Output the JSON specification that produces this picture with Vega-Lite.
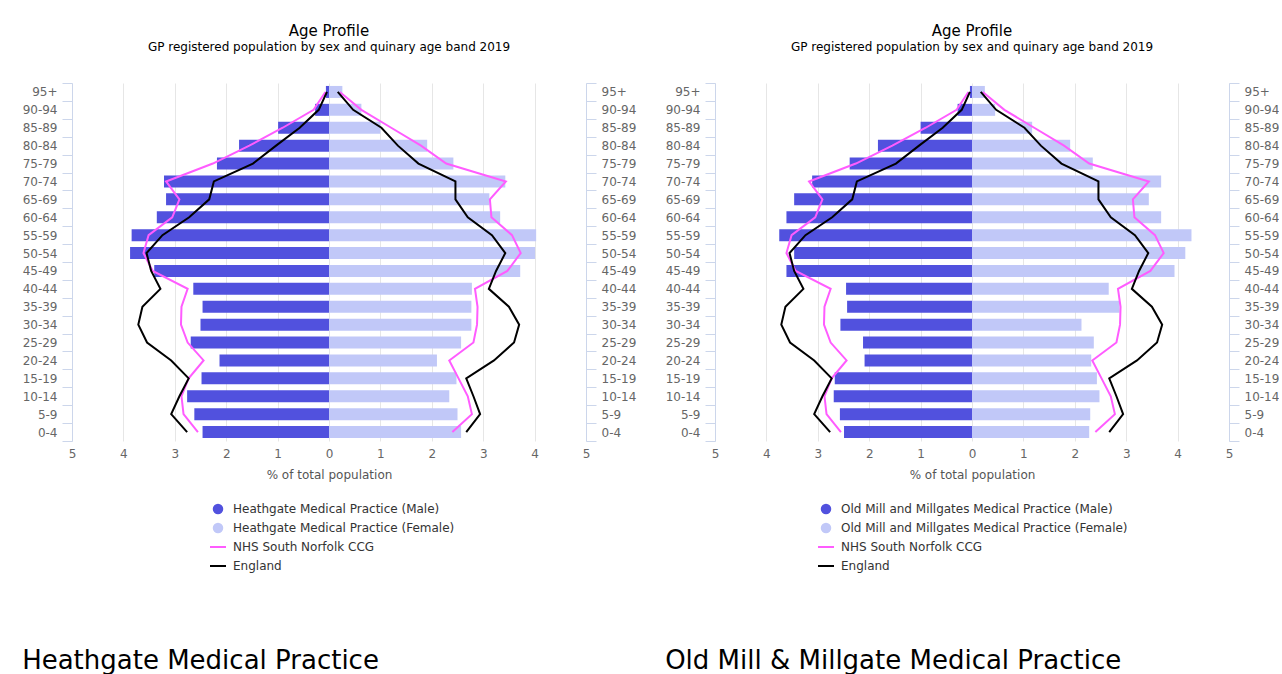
{
  "$schema": "https://vega.github.io/schema/vega-lite/v6.json",
  "background": "white",
  "padding": {"left": 22, "top": 24, "right": 0, "bottom": 0},
  "spacing": 29,
  "resolve": {"scale": {"fill": "independent", "stroke": "independent"}, "legend": {"fill": "independent", "stroke": "independent"}},
  "datasets": {
    "heath": [
      {"age": "95+", "series": "Heathgate Medical Practice (Male)", "v": -0.06},
      {"age": "90-94", "series": "Heathgate Medical Practice (Male)", "v": -0.27},
      {"age": "85-89", "series": "Heathgate Medical Practice (Male)", "v": -0.99},
      {"age": "80-84", "series": "Heathgate Medical Practice (Male)", "v": -1.75},
      {"age": "75-79", "series": "Heathgate Medical Practice (Male)", "v": -2.18},
      {"age": "70-74", "series": "Heathgate Medical Practice (Male)", "v": -3.21},
      {"age": "65-69", "series": "Heathgate Medical Practice (Male)", "v": -3.17},
      {"age": "60-64", "series": "Heathgate Medical Practice (Male)", "v": -3.35},
      {"age": "55-59", "series": "Heathgate Medical Practice (Male)", "v": -3.84},
      {"age": "50-54", "series": "Heathgate Medical Practice (Male)", "v": -3.87},
      {"age": "45-49", "series": "Heathgate Medical Practice (Male)", "v": -3.40},
      {"age": "40-44", "series": "Heathgate Medical Practice (Male)", "v": -2.64},
      {"age": "35-39", "series": "Heathgate Medical Practice (Male)", "v": -2.46},
      {"age": "30-34", "series": "Heathgate Medical Practice (Male)", "v": -2.50},
      {"age": "25-29", "series": "Heathgate Medical Practice (Male)", "v": -2.69},
      {"age": "20-24", "series": "Heathgate Medical Practice (Male)", "v": -2.13},
      {"age": "15-19", "series": "Heathgate Medical Practice (Male)", "v": -2.48},
      {"age": "10-14", "series": "Heathgate Medical Practice (Male)", "v": -2.76},
      {"age": "5-9", "series": "Heathgate Medical Practice (Male)", "v": -2.62},
      {"age": "0-4", "series": "Heathgate Medical Practice (Male)", "v": -2.46},
      {"age": "95+", "series": "Heathgate Medical Practice (Female)", "v": 0.26},
      {"age": "90-94", "series": "Heathgate Medical Practice (Female)", "v": 0.63},
      {"age": "85-89", "series": "Heathgate Medical Practice (Female)", "v": 1.00},
      {"age": "80-84", "series": "Heathgate Medical Practice (Female)", "v": 1.91},
      {"age": "75-79", "series": "Heathgate Medical Practice (Female)", "v": 2.42},
      {"age": "70-74", "series": "Heathgate Medical Practice (Female)", "v": 3.43},
      {"age": "65-69", "series": "Heathgate Medical Practice (Female)", "v": 3.12},
      {"age": "60-64", "series": "Heathgate Medical Practice (Female)", "v": 3.33},
      {"age": "55-59", "series": "Heathgate Medical Practice (Female)", "v": 4.03},
      {"age": "50-54", "series": "Heathgate Medical Practice (Female)", "v": 4.01},
      {"age": "45-49", "series": "Heathgate Medical Practice (Female)", "v": 3.72},
      {"age": "40-44", "series": "Heathgate Medical Practice (Female)", "v": 2.78},
      {"age": "35-39", "series": "Heathgate Medical Practice (Female)", "v": 2.77},
      {"age": "30-34", "series": "Heathgate Medical Practice (Female)", "v": 2.77},
      {"age": "25-29", "series": "Heathgate Medical Practice (Female)", "v": 2.57},
      {"age": "20-24", "series": "Heathgate Medical Practice (Female)", "v": 2.10},
      {"age": "15-19", "series": "Heathgate Medical Practice (Female)", "v": 2.48},
      {"age": "10-14", "series": "Heathgate Medical Practice (Female)", "v": 2.34},
      {"age": "5-9", "series": "Heathgate Medical Practice (Female)", "v": 2.50},
      {"age": "0-4", "series": "Heathgate Medical Practice (Female)", "v": 2.57}
    ],
    "oldmill": [
      {"age": "95+", "series": "Old Mill and Millgates Medical Practice (Male)", "v": -0.04},
      {"age": "90-94", "series": "Old Mill and Millgates Medical Practice (Male)", "v": -0.28},
      {"age": "85-89", "series": "Old Mill and Millgates Medical Practice (Male)", "v": -1.00},
      {"age": "80-84", "series": "Old Mill and Millgates Medical Practice (Male)", "v": -1.83},
      {"age": "75-79", "series": "Old Mill and Millgates Medical Practice (Male)", "v": -2.38},
      {"age": "70-74", "series": "Old Mill and Millgates Medical Practice (Male)", "v": -3.11},
      {"age": "65-69", "series": "Old Mill and Millgates Medical Practice (Male)", "v": -3.46},
      {"age": "60-64", "series": "Old Mill and Millgates Medical Practice (Male)", "v": -3.61},
      {"age": "55-59", "series": "Old Mill and Millgates Medical Practice (Male)", "v": -3.75},
      {"age": "50-54", "series": "Old Mill and Millgates Medical Practice (Male)", "v": -3.46},
      {"age": "45-49", "series": "Old Mill and Millgates Medical Practice (Male)", "v": -3.61},
      {"age": "40-44", "series": "Old Mill and Millgates Medical Practice (Male)", "v": -2.45},
      {"age": "35-39", "series": "Old Mill and Millgates Medical Practice (Male)", "v": -2.43},
      {"age": "30-34", "series": "Old Mill and Millgates Medical Practice (Male)", "v": -2.56},
      {"age": "25-29", "series": "Old Mill and Millgates Medical Practice (Male)", "v": -2.12},
      {"age": "20-24", "series": "Old Mill and Millgates Medical Practice (Male)", "v": -2.09},
      {"age": "15-19", "series": "Old Mill and Millgates Medical Practice (Male)", "v": -2.67},
      {"age": "10-14", "series": "Old Mill and Millgates Medical Practice (Male)", "v": -2.69},
      {"age": "5-9", "series": "Old Mill and Millgates Medical Practice (Male)", "v": -2.57},
      {"age": "0-4", "series": "Old Mill and Millgates Medical Practice (Male)", "v": -2.49},
      {"age": "95+", "series": "Old Mill and Millgates Medical Practice (Female)", "v": 0.25},
      {"age": "90-94", "series": "Old Mill and Millgates Medical Practice (Female)", "v": 0.45},
      {"age": "85-89", "series": "Old Mill and Millgates Medical Practice (Female)", "v": 1.17},
      {"age": "80-84", "series": "Old Mill and Millgates Medical Practice (Female)", "v": 1.91},
      {"age": "75-79", "series": "Old Mill and Millgates Medical Practice (Female)", "v": 2.35},
      {"age": "70-74", "series": "Old Mill and Millgates Medical Practice (Female)", "v": 3.68},
      {"age": "65-69", "series": "Old Mill and Millgates Medical Practice (Female)", "v": 3.44},
      {"age": "60-64", "series": "Old Mill and Millgates Medical Practice (Female)", "v": 3.68},
      {"age": "55-59", "series": "Old Mill and Millgates Medical Practice (Female)", "v": 4.27},
      {"age": "50-54", "series": "Old Mill and Millgates Medical Practice (Female)", "v": 4.15},
      {"age": "45-49", "series": "Old Mill and Millgates Medical Practice (Female)", "v": 3.94},
      {"age": "40-44", "series": "Old Mill and Millgates Medical Practice (Female)", "v": 2.66},
      {"age": "35-39", "series": "Old Mill and Millgates Medical Practice (Female)", "v": 2.87},
      {"age": "30-34", "series": "Old Mill and Millgates Medical Practice (Female)", "v": 2.13},
      {"age": "25-29", "series": "Old Mill and Millgates Medical Practice (Female)", "v": 2.37},
      {"age": "20-24", "series": "Old Mill and Millgates Medical Practice (Female)", "v": 2.32},
      {"age": "15-19", "series": "Old Mill and Millgates Medical Practice (Female)", "v": 2.43},
      {"age": "10-14", "series": "Old Mill and Millgates Medical Practice (Female)", "v": 2.48},
      {"age": "5-9", "series": "Old Mill and Millgates Medical Practice (Female)", "v": 2.30},
      {"age": "0-4", "series": "Old Mill and Millgates Medical Practice (Female)", "v": 2.28}
    ],
    "ref": [
      {"age": "95+", "k": 0, "sex": "M", "series": "NHS South Norfolk CCG", "v": -0.07},
      {"age": "90-94", "k": 1, "sex": "M", "series": "NHS South Norfolk CCG", "v": -0.30},
      {"age": "85-89", "k": 2, "sex": "M", "series": "NHS South Norfolk CCG", "v": -0.90},
      {"age": "80-84", "k": 3, "sex": "M", "series": "NHS South Norfolk CCG", "v": -1.55},
      {"age": "75-79", "k": 4, "sex": "M", "series": "NHS South Norfolk CCG", "v": -2.26},
      {"age": "70-74", "k": 5, "sex": "M", "series": "NHS South Norfolk CCG", "v": -3.17},
      {"age": "65-69", "k": 6, "sex": "M", "series": "NHS South Norfolk CCG", "v": -2.91},
      {"age": "60-64", "k": 7, "sex": "M", "series": "NHS South Norfolk CCG", "v": -3.05},
      {"age": "55-59", "k": 8, "sex": "M", "series": "NHS South Norfolk CCG", "v": -3.51},
      {"age": "50-54", "k": 9, "sex": "M", "series": "NHS South Norfolk CCG", "v": -3.61},
      {"age": "45-49", "k": 10, "sex": "M", "series": "NHS South Norfolk CCG", "v": -3.43},
      {"age": "40-44", "k": 11, "sex": "M", "series": "NHS South Norfolk CCG", "v": -2.75},
      {"age": "35-39", "k": 12, "sex": "M", "series": "NHS South Norfolk CCG", "v": -2.87},
      {"age": "30-34", "k": 13, "sex": "M", "series": "NHS South Norfolk CCG", "v": -2.88},
      {"age": "25-29", "k": 14, "sex": "M", "series": "NHS South Norfolk CCG", "v": -2.75},
      {"age": "20-24", "k": 15, "sex": "M", "series": "NHS South Norfolk CCG", "v": -2.44},
      {"age": "15-19", "k": 16, "sex": "M", "series": "NHS South Norfolk CCG", "v": -2.73},
      {"age": "10-14", "k": 17, "sex": "M", "series": "NHS South Norfolk CCG", "v": -2.87},
      {"age": "5-9", "k": 18, "sex": "M", "series": "NHS South Norfolk CCG", "v": -2.83},
      {"age": "0-4", "k": 19, "sex": "M", "series": "NHS South Norfolk CCG", "v": -2.55},
      {"age": "95+", "k": 0, "sex": "F", "series": "NHS South Norfolk CCG", "v": 0.21},
      {"age": "90-94", "k": 1, "sex": "F", "series": "NHS South Norfolk CCG", "v": 0.63},
      {"age": "85-89", "k": 2, "sex": "F", "series": "NHS South Norfolk CCG", "v": 1.21},
      {"age": "80-84", "k": 3, "sex": "F", "series": "NHS South Norfolk CCG", "v": 1.79},
      {"age": "75-79", "k": 4, "sex": "F", "series": "NHS South Norfolk CCG", "v": 2.28},
      {"age": "70-74", "k": 5, "sex": "F", "series": "NHS South Norfolk CCG", "v": 3.44},
      {"age": "65-69", "k": 6, "sex": "F", "series": "NHS South Norfolk CCG", "v": 3.13},
      {"age": "60-64", "k": 7, "sex": "F", "series": "NHS South Norfolk CCG", "v": 3.16},
      {"age": "55-59", "k": 8, "sex": "F", "series": "NHS South Norfolk CCG", "v": 3.56},
      {"age": "50-54", "k": 9, "sex": "F", "series": "NHS South Norfolk CCG", "v": 3.73},
      {"age": "45-49", "k": 10, "sex": "F", "series": "NHS South Norfolk CCG", "v": 3.47},
      {"age": "40-44", "k": 11, "sex": "F", "series": "NHS South Norfolk CCG", "v": 2.84},
      {"age": "35-39", "k": 12, "sex": "F", "series": "NHS South Norfolk CCG", "v": 2.89},
      {"age": "30-34", "k": 13, "sex": "F", "series": "NHS South Norfolk CCG", "v": 2.88},
      {"age": "25-29", "k": 14, "sex": "F", "series": "NHS South Norfolk CCG", "v": 2.81},
      {"age": "20-24", "k": 15, "sex": "F", "series": "NHS South Norfolk CCG", "v": 2.34},
      {"age": "15-19", "k": 16, "sex": "F", "series": "NHS South Norfolk CCG", "v": 2.52},
      {"age": "10-14", "k": 17, "sex": "F", "series": "NHS South Norfolk CCG", "v": 2.70},
      {"age": "5-9", "k": 18, "sex": "F", "series": "NHS South Norfolk CCG", "v": 2.78},
      {"age": "0-4", "k": 19, "sex": "F", "series": "NHS South Norfolk CCG", "v": 2.40},
      {"age": "95+", "k": 0, "sex": "M", "series": "England", "v": -0.04},
      {"age": "90-94", "k": 1, "sex": "M", "series": "England", "v": -0.20},
      {"age": "85-89", "k": 2, "sex": "M", "series": "England", "v": -0.57},
      {"age": "80-84", "k": 3, "sex": "M", "series": "England", "v": -1.03},
      {"age": "75-79", "k": 4, "sex": "M", "series": "England", "v": -1.48},
      {"age": "70-74", "k": 5, "sex": "M", "series": "England", "v": -2.24},
      {"age": "65-69", "k": 6, "sex": "M", "series": "England", "v": -2.33},
      {"age": "60-64", "k": 7, "sex": "M", "series": "England", "v": -2.72},
      {"age": "55-59", "k": 8, "sex": "M", "series": "England", "v": -3.24},
      {"age": "50-54", "k": 9, "sex": "M", "series": "England", "v": -3.55},
      {"age": "45-49", "k": 10, "sex": "M", "series": "England", "v": -3.46},
      {"age": "40-44", "k": 11, "sex": "M", "series": "England", "v": -3.28},
      {"age": "35-39", "k": 12, "sex": "M", "series": "England", "v": -3.63},
      {"age": "30-34", "k": 13, "sex": "M", "series": "England", "v": -3.71},
      {"age": "25-29", "k": 14, "sex": "M", "series": "England", "v": -3.54},
      {"age": "20-24", "k": 15, "sex": "M", "series": "England", "v": -3.07},
      {"age": "15-19", "k": 16, "sex": "M", "series": "England", "v": -2.73},
      {"age": "10-14", "k": 17, "sex": "M", "series": "England", "v": -2.91},
      {"age": "5-9", "k": 18, "sex": "M", "series": "England", "v": -3.07},
      {"age": "0-4", "k": 19, "sex": "M", "series": "England", "v": -2.76},
      {"age": "95+", "k": 0, "sex": "F", "series": "England", "v": 0.17},
      {"age": "90-94", "k": 1, "sex": "F", "series": "England", "v": 0.47},
      {"age": "85-89", "k": 2, "sex": "F", "series": "England", "v": 1.02},
      {"age": "80-84", "k": 3, "sex": "F", "series": "England", "v": 1.34},
      {"age": "75-79", "k": 4, "sex": "F", "series": "England", "v": 1.74},
      {"age": "70-74", "k": 5, "sex": "F", "series": "England", "v": 2.46},
      {"age": "65-69", "k": 6, "sex": "F", "series": "England", "v": 2.46},
      {"age": "60-64", "k": 7, "sex": "F", "series": "England", "v": 2.70},
      {"age": "55-59", "k": 8, "sex": "F", "series": "England", "v": 3.17},
      {"age": "50-54", "k": 9, "sex": "F", "series": "England", "v": 3.43},
      {"age": "45-49", "k": 10, "sex": "F", "series": "England", "v": 3.25},
      {"age": "40-44", "k": 11, "sex": "F", "series": "England", "v": 3.11},
      {"age": "35-39", "k": 12, "sex": "F", "series": "England", "v": 3.50},
      {"age": "30-34", "k": 13, "sex": "F", "series": "England", "v": 3.70},
      {"age": "25-29", "k": 14, "sex": "F", "series": "England", "v": 3.60},
      {"age": "20-24", "k": 15, "sex": "F", "series": "England", "v": 3.21},
      {"age": "15-19", "k": 16, "sex": "F", "series": "England", "v": 2.67},
      {"age": "10-14", "k": 17, "sex": "F", "series": "England", "v": 2.81},
      {"age": "5-9", "k": 18, "sex": "F", "series": "England", "v": 2.94},
      {"age": "0-4", "k": 19, "sex": "F", "series": "England", "v": 2.67}
    ]
  },
  "hconcat": [
    {
      "title": {"text": "Heathgate Medical Practice", "orient": "bottom", "anchor": "start", "fontSize": 26, "fontWeight": "normal", "color": "#000000", "offset": 76},
      "vconcat": [
        {
          "title": {"text": "Age Profile", "subtitle": "GP registered population by sex and quinary age band 2019"},
          "width": 514,
          "height": 358,
          "layer": [
            {
              "data": {"name": "heath"},
              "mark": {"type": "bar", "size": 12},
              "encoding": {
                "y": {"field": "age", "type": "nominal", "scale": {"domain": ["95+","90-94","85-89","80-84","75-79","70-74","65-69","60-64","55-59","50-54","45-49","40-44","35-39","30-34","25-29","20-24","15-19","10-14","5-9","0-4"], "paddingInner": 0, "paddingOuter": 0}, "axis": {"orient": "left", "title": null, "tickBand": "extent", "tickSize": 10, "labelPadding": 5}},
                "x": {"field": "v", "type": "quantitative", "stack": null, "scale": {"domain": [-5, 5], "nice": false}, "axis": {"values": [-5,-4,-3,-2,-1,0,1,2,3,4,5], "labelExpr": "abs(datum.value)", "labelFlush": false, "title": "% of total population", "ticks": false, "domain": false, "labelPadding": 7, "titlePadding": 10}},
                "fill": {"field": "series", "type": "nominal", "scale": {"domain": ["Heathgate Medical Practice (Male)", "Heathgate Medical Practice (Female)"], "range": ["#5151de", "#c1c8f8"]}, "legend": {"orient": "none", "legendX": 140, "legendY": 420, "title": null, "labelLimit": 0, "rowPadding": 7, "labelOffset": 9, "symbolType": "circle", "symbolSize": 110}}
              }
            },
            {
              "data": {"name": "ref"},
              "mark": {"type": "line", "strokeWidth": 2},
              "encoding": {
                "y": {"field": "age", "type": "nominal", "axis": {"orient": "right", "title": null, "tickBand": "extent", "tickSize": 10, "labelPadding": 5}},
                "x": {"field": "v", "type": "quantitative", "stack": null, "axis": {"values": [-5,-4,-3,-2,-1,0,1,2,3,4,5], "labelExpr": "abs(datum.value)", "labelFlush": false, "title": "% of total population", "ticks": false, "domain": false, "labelPadding": 7, "titlePadding": 10}},
                "stroke": {"field": "series", "type": "nominal", "scale": {"domain": ["NHS South Norfolk CCG", "England"], "range": ["#ff5cff", "#000000"]}, "legend": {"orient": "none", "legendX": 137, "legendY": 455, "title": null, "labelLimit": 0, "rowPadding": 4, "labelOffset": 6, "symbolType": "stroke", "symbolSize": 256, "symbolStrokeWidth": 2}},
                "detail": {"field": "sex"},
                "order": {"field": "k"}
              }
            }
          ],
          "resolve": {"axis": {"y": "independent"}}
        }
      ]
    },
    {
      "title": {"text": "Old Mill & Millgate Medical Practice", "orient": "bottom", "anchor": "start", "fontSize": 26, "fontWeight": "normal", "color": "#000000", "offset": 76},
      "vconcat": [
        {
          "title": {"text": "Age Profile", "subtitle": "GP registered population by sex and quinary age band 2019"},
          "width": 514,
          "height": 358,
          "layer": [
            {
              "data": {"name": "oldmill"},
              "mark": {"type": "bar", "size": 12},
              "encoding": {
                "y": {"field": "age", "type": "nominal", "scale": {"domain": ["95+","90-94","85-89","80-84","75-79","70-74","65-69","60-64","55-59","50-54","45-49","40-44","35-39","30-34","25-29","20-24","15-19","10-14","5-9","0-4"], "paddingInner": 0, "paddingOuter": 0}, "axis": {"orient": "left", "title": null, "tickBand": "extent", "tickSize": 10, "labelPadding": 5}},
                "x": {"field": "v", "type": "quantitative", "stack": null, "scale": {"domain": [-5, 5], "nice": false}, "axis": {"values": [-5,-4,-3,-2,-1,0,1,2,3,4,5], "labelExpr": "abs(datum.value)", "labelFlush": false, "title": "% of total population", "ticks": false, "domain": false, "labelPadding": 7, "titlePadding": 10}},
                "fill": {"field": "series", "type": "nominal", "scale": {"domain": ["Old Mill and Millgates Medical Practice (Male)", "Old Mill and Millgates Medical Practice (Female)"], "range": ["#5151de", "#c1c8f8"]}, "legend": {"orient": "none", "legendX": 105, "legendY": 420, "title": null, "labelLimit": 0, "rowPadding": 7, "labelOffset": 9, "symbolType": "circle", "symbolSize": 110}}
              }
            },
            {
              "data": {"name": "ref"},
              "mark": {"type": "line", "strokeWidth": 2},
              "encoding": {
                "y": {"field": "age", "type": "nominal", "axis": {"orient": "right", "title": null, "tickBand": "extent", "tickSize": 10, "labelPadding": 5}},
                "x": {"field": "v", "type": "quantitative", "stack": null, "axis": {"values": [-5,-4,-3,-2,-1,0,1,2,3,4,5], "labelExpr": "abs(datum.value)", "labelFlush": false, "title": "% of total population", "ticks": false, "domain": false, "labelPadding": 7, "titlePadding": 10}},
                "stroke": {"field": "series", "type": "nominal", "scale": {"domain": ["NHS South Norfolk CCG", "England"], "range": ["#ff5cff", "#000000"]}, "legend": {"orient": "none", "legendX": 102, "legendY": 455, "title": null, "labelLimit": 0, "rowPadding": 4, "labelOffset": 6, "symbolType": "stroke", "symbolSize": 256, "symbolStrokeWidth": 2}},
                "detail": {"field": "sex"},
                "order": {"field": "k"}
              }
            }
          ],
          "resolve": {"axis": {"y": "independent"}}
        }
      ]
    }
  ],
  "config": {
    "font": "DejaVu Sans",
    "view": {"stroke": null},
    "axis": {"labelFont": "DejaVu Sans", "labelFontSize": 12, "labelColor": "#666666", "titleFont": "DejaVu Sans", "titleFontSize": 12, "titleFontWeight": "normal", "titleColor": "#555555", "gridColor": "#e6e6e6", "tickColor": "#ccd6eb", "domainColor": "#ccd6eb"},
    "title": {"font": "DejaVu Sans", "fontSize": 15, "fontWeight": "normal", "color": "#000000", "subtitleFont": "DejaVu Sans", "subtitleFontSize": 12, "subtitleColor": "#000000", "subtitlePadding": 3, "offset": 24, "anchor": "middle"},
    "legend": {"labelFont": "DejaVu Sans", "labelFontSize": 12, "labelColor": "#333333"}
  }
}
